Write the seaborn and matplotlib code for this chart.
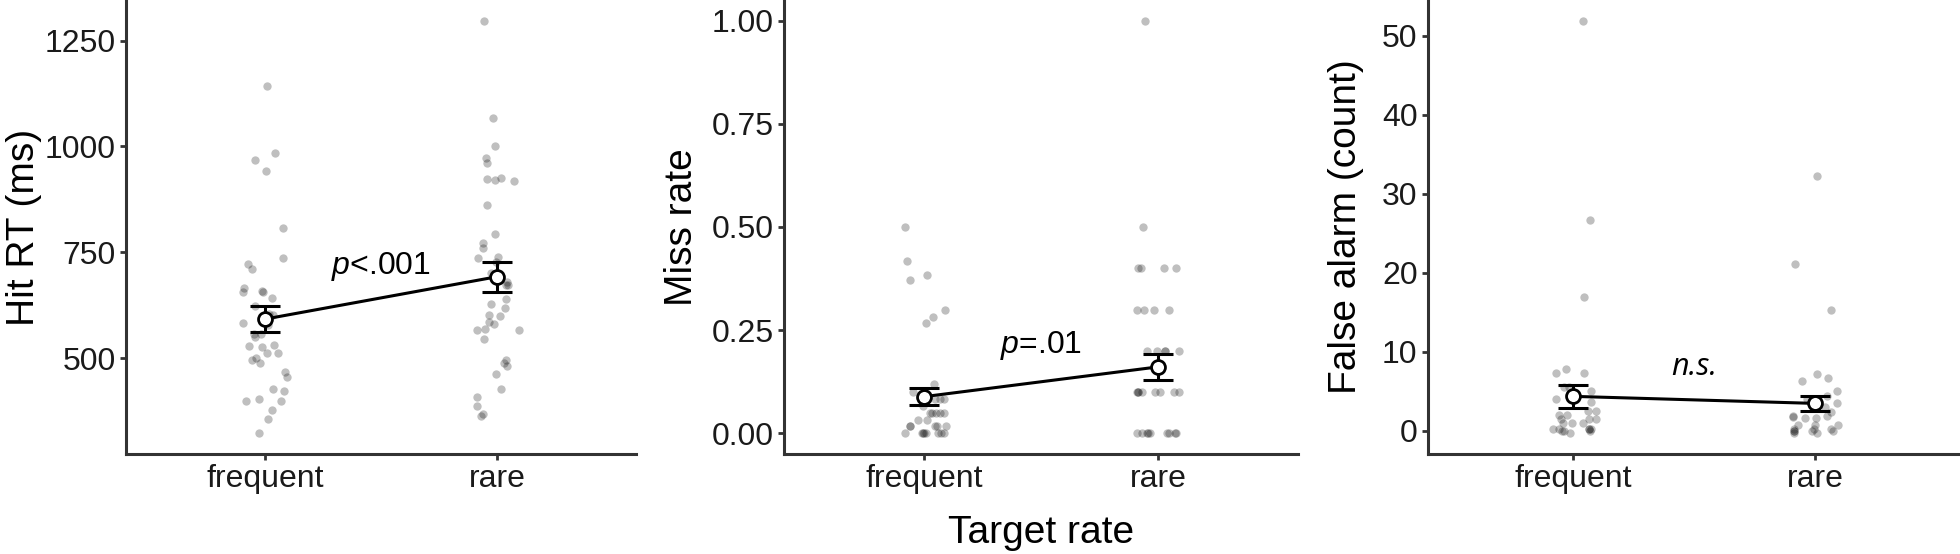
import numpy as np
import pandas as pd
import matplotlib
matplotlib.use("Agg")
import matplotlib.pyplot as plt
import seaborn as sns

sns.set_style("ticks")
plt.rcParams["font.family"] = ["Liberation Sans", "DejaVu Sans"]
plt.rcParams["mathtext.fontset"] = "custom"
plt.rcParams["mathtext.it"] = "Liberation Sans:italic"
plt.rcParams["mathtext.rm"] = "Liberation Sans"

categories = ["frequent", "rare"]

# Hit RT (ms) per participant
hit_rt_frequent = [1142, 984, 967, 942, 808, 736, 723, 710, 665, 659, 657, 655, 641, 623,
                   601, 604, 582, 579, 557, 557, 550, 530, 526, 529, 512, 511, 500, 496,
                   488, 466, 456, 427, 422, 399, 402, 398, 377, 357, 322]
hit_rt_rare = [1297, 1066, 1000, 973, 960, 921, 917, 926, 924, 862, 794, 771, 760, 739,
               737, 727, 700, 680, 673, 672, 640, 628, 617, 601, 600, 586, 581, 565, 568,
               567, 546, 496, 489, 482, 463, 427, 407, 387, 367, 362]
hit_rt_mean = [592, 692]
hit_rt_se = [30, 35]

# Miss rate per participant
miss_frequent = [0.50, 0.417, 0.383, 0.372, 0.30, 0.283, 0.267, 0.12, 0.10, 0.083, 0.083,
                 0.083, 0.067, 0.05, 0.05, 0.05, 0.05, 0.05, 0.033, 0.033, 0.017, 0.017,
                 0.017, 0.017, 0.017, 0, 0, 0, 0, 0, 0, 0, 0]
miss_rare = [1.0, 0.5, 0.4, 0.4, 0.4, 0.4, 0.3, 0.3, 0.3, 0.3, 0.2, 0.2, 0.2, 0.2, 0.2,
             0.1, 0.1, 0.1, 0.1, 0.1, 0.1, 0.1, 0.1, 0, 0, 0, 0, 0, 0, 0, 0, 0]
miss_mean = [0.089, 0.161]
miss_se = [0.021, 0.032]

# False alarm counts per participant
fa_frequent = [51.9, 26.7, 17.0, 7.8, 7.3, 7.3, 5.6, 5.6, 5.0, 4.0, 3.7, 2.5, 2.5, 2.0,
               2.0, 1.5, 1.5, 1.5, 1.0, 1.0, 1.0, 0.2, 0.2, 0.2, 0.2, 0.2, 0, 0, 0, -0.3]
fa_rare = [32.3, 21.1, 15.3, 7.2, 6.7, 6.3, 5.0, 4.4, 4.0, 3.5, 3.0, 2.4, 1.8, 1.9, 1.9,
           1.7, 1.7, 0.8, 0.8, 0.8, 0.2, 0.2, 0.2, 0, 0, 0, 0, -0.3, -0.3]
fa_mean = [4.38, 3.49]
fa_se = [1.47, 0.96]

panels = [
    (hit_rt_frequent, hit_rt_rare, hit_rt_mean, hit_rt_se, "Hit RT (ms)",
     [500, 750, 1000, 1250], ["500", "750", "1000", "1250"], r"$p$<.001", 698),
    (miss_frequent, miss_rare, miss_mean, miss_se, "Miss rate",
     [0, 0.25, 0.5, 0.75, 1.0], ["0.00", "0.25", "0.50", "0.75", "1.00"], r"$p$=.01", 0.194),
    (fa_frequent, fa_rare, fa_mean, fa_se, "False alarm (count)",
     [0, 10, 20, 30, 40, 50], ["0", "10", "20", "30", "40", "50"], "n.s.", 7.1),
]

fig = plt.figure(figsize=(19.6, 5.54), dpi=100)
boxes = [[126 / 1960, 100 / 554, 510 / 1960, 454 / 554],
         [784 / 1960, 100 / 554, 514 / 1960, 454 / 554],
         [1428 / 1960, 100 / 554, 532 / 1960, 454 / 554]]
ylabel_pads = [2, 8, 13]

np.random.seed(3)
for i, (freq, rare, means, se, ylab, ticks, ticklabels, note, note_y) in enumerate(panels):
    ax = fig.add_axes(boxes[i])
    df = pd.DataFrame({"rate": ["frequent"] * len(freq) + ["rare"] * len(rare),
                       "value": freq + rare})
    sns.stripplot(data=df, x="rate", y="value", order=categories, color="black",
                  alpha=0.25, size=6, jitter=0.1, linewidth=0, ax=ax)
    ax.errorbar(x=[0, 1], y=means, yerr=se, fmt="none", ecolor="black",
                elinewidth=2.2, capsize=11, capthick=2.2, zorder=4)
    sns.pointplot(x=categories, y=means, color="black", markers="o", errorbar=None,
                  linewidth=2.2, markersize=10, markerfacecolor="white",
                  markeredgewidth=2.0, ax=ax, zorder=5)

    lo, hi = df["value"].min(), df["value"].max()
    pad = 0.05 * (hi - lo)
    ax.set_ylim(lo - pad, hi + pad)
    ax.set_xlim(-0.6, 1.6)
    ax.set_yticks(ticks)
    ax.set_yticklabels(ticklabels)

    if note == "n.s.":
        ax.text(0.5, note_y, note, ha="center", va="baseline", fontsize=22,
                family=["Open Sans", "DejaVu Sans"], style="italic", color="black")
    else:
        ax.text(0.5, note_y, note, ha="center", va="baseline", fontsize=23, color="black")

    ax.set_ylabel(ylab, fontsize=28, color="black", labelpad=ylabel_pads[i])
    ax.set_xlabel("Target rate" if i == 1 else "", fontsize=28, color="black", labelpad=15)
    sns.despine(ax=ax)
    for s in ["left", "bottom"]:
        ax.spines[s].set_color("#333333")
        ax.spines[s].set_linewidth(2.2)
    ax.tick_params(length=4.5, width=2, color="#333333", labelsize=23,
                   labelcolor="#1a1a1a", pad=3)

fig.savefig("out.png", dpi=100)
